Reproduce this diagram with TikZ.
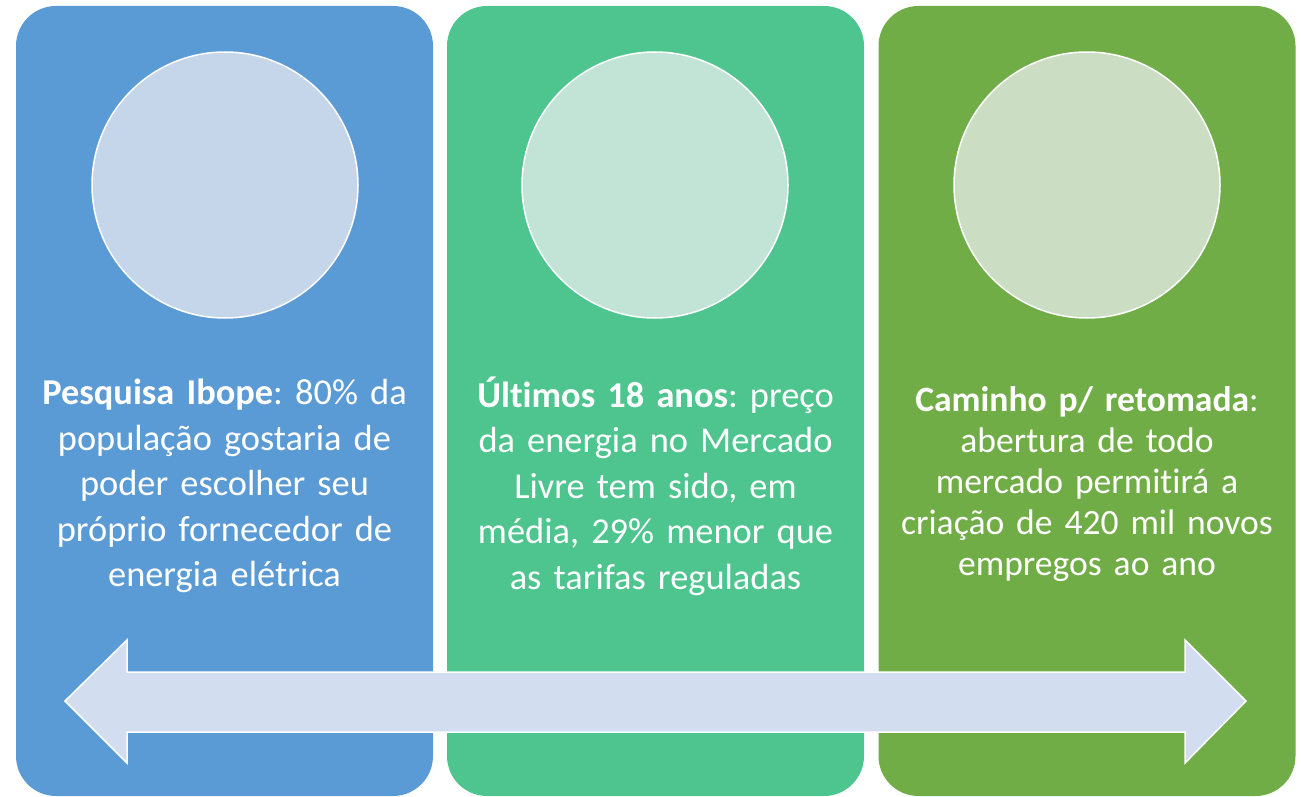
\documentclass[tikz,border=0pt]{standalone}
\usepackage{fontspec}
\setmainfont{Carlito}[Ligatures=NoCommon, RawFeature={-liga;-clig;-calt}]
\frenchspacing
\definecolor{cblue}{HTML}{5B9BD5}
\definecolor{cgreen}{HTML}{4EC58E}
\definecolor{colive}{HTML}{70AD47}
\definecolor{lblue}{HTML}{C5D5EA}
\definecolor{lgreen}{HTML}{C1E4D6}
\definecolor{lolive}{HTML}{CBDDC2}
\definecolor{larrow}{HTML}{D2DEEF}
\begin{document}
\begin{tikzpicture}[x=1pt,y=-1pt,
  panel/.style={rounded corners=40pt, minimum width=417pt, minimum height=790pt, inner sep=0pt, draw=none},
  disc/.style={circle, minimum size=266pt, inner sep=0pt, draw=white, line width=1.5pt},
  txt/.style={text=white, align=center, text width=410pt, inner sep=0pt, font=\frenchspacing\fontsize{36.4}{45.5}\selectfont},
  txtsm/.style={text=white, align=center, text width=410pt, inner sep=0pt, font=\frenchspacing\fontsize{35.6}{41}\selectfont}]
\useasboundingbox (0,0) rectangle (1301,797);
\node[panel, fill=cblue] (p1) at (224.5,401) {};
\node[panel, fill=cgreen] (p2) at (655.5,401) {};
\node[panel, fill=colive] (p3) at (1087,401) {};
\node[disc, fill=lblue] (c1) at (225,185) {};
\node[disc, fill=lgreen] (c2) at (655,185) {};
\node[disc, fill=lolive] (c3) at (1087,185) {};
\node[txt] (t1) at (224.5,486) {\textbf{Pesquisa Ibope}: 80\% da\\população gostaria de\\poder escolher seu\\próprio fornecedor de\\energia elétrica};
\node[txt] (t2) at (655.5,486) {\textbf{Últimos 18 anos}: preço\\da energia no Mercado\\Livre tem sido, em\\média, 29\% menor que\\as tarifas reguladas};
\node[txtsm] (t3) at (1087,484) {\textbf{Caminho p/ retomada}:\\abertura de todo\\mercado permitirá a\\criação de 420 mil novos\\empregos ao ano};
\draw[fill=larrow, draw=white, line width=1.5pt, line join=miter]
  (65,701) -- (127,640) -- (127,672) -- (1185,672) -- (1185,640) -- (1246,701)
  -- (1185,763) -- (1185,732) -- (127,732) -- (127,763) -- cycle;
\end{tikzpicture}
\end{document}
